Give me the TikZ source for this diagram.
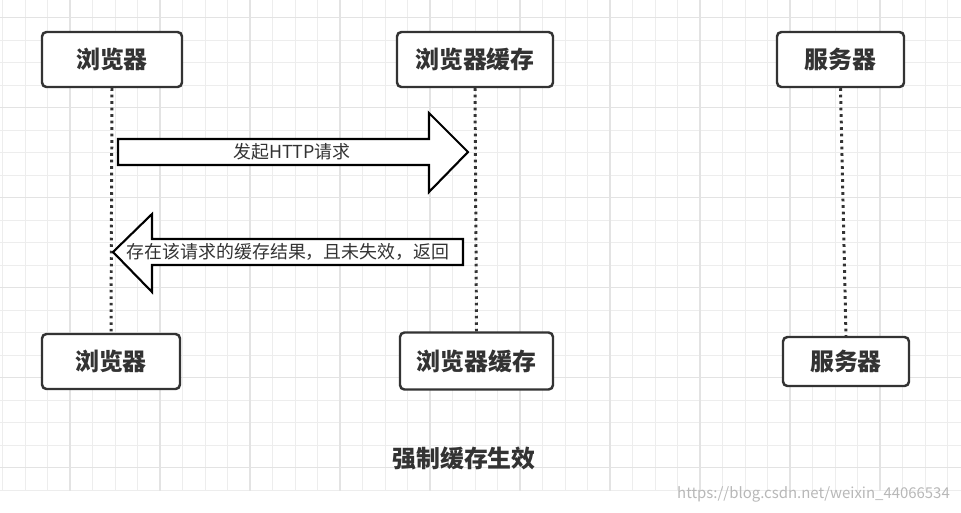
\documentclass[tikz,border=0pt]{standalone}
\usepackage{fontspec}
\setmainfont{Noto Sans CJK SC}
\usetikzlibrary{positioning}
\definecolor{tinta}{HTML}{333333}
\tikzset{
  caja/.style={draw=tinta,line width=1.4pt,rounded corners=2.5pt,fill=white,text=tinta,inner sep=0pt,font=\fontsize{13.6}{16}\selectfont\bfseries},
  vida/.style={tinta,line width=1.7pt,dash pattern=on 1.5pt off 2.2pt},
  flecha/.style={draw=black,line width=1.2pt,fill=white,line join=miter},
  rotulo/.style={text=tinta,inner sep=0pt,font=\fontsize{10.2}{12}\selectfont},
  rejilla/.style={black!7,line width=0.5pt},
  rejillaf/.style={black!11,line width=0.6pt}
}

\begin{document}
\begin{tikzpicture}[x=0.02cm,y=-0.02cm]
\useasboundingbox[fill=white] (0,0) rectangle (961,512);
\foreach \i in {0,...,42}{
  \draw[rejilla] ({2.5+22.5*\i},0) -- ({2.5+22.5*\i},491);}
\foreach \i in {0,...,21}{
  \draw[rejilla] (0,{17.5+22.5*\i}) -- (961,{17.5+22.5*\i});}
\foreach \i in {0,...,9}{
  \draw[rejillaf] ({70+90*\i},0) -- ({70+90*\i},491);}
\foreach \i in {0,...,5}{
  \draw[rejillaf] (0,{17.5+90*\i}) -- (961,{17.5+90*\i});}
\node[caja,minimum width=2.8cm,minimum height=1.1cm] (nav1) at (112,59.5) {浏览器};
\node[caja,minimum width=3.12cm,minimum height=1.1cm] (cache1) at (475,59.5) {浏览器缓存};
\node[caja,minimum width=2.54cm,minimum height=1.1cm] (serv1) at (840.5,59.5) {服务器};
\node[caja,minimum width=2.76cm,minimum height=1.1cm] (nav2) at (111,361.5) {浏览器};
\node[caja,minimum width=3.06cm,minimum height=1.14cm] (cache2) at (476.5,361) {浏览器缓存};
\node[caja,minimum width=2.52cm,minimum height=0.98cm] (serv2) at (846,361.5) {服务器};
\draw[vida] (nav1.south) -- (nav2.north);
\draw[vida] (cache1.south) -- (cache2.north);
\draw[vida] (serv1.south) -- (serv2.north);
\draw[flecha] (118,139) -- (429,139) -- (429,113) -- (468,152) -- (429,192) -- (429,165) -- (118,165) -- cycle;
\node[rotulo] (pet) at (292,152) {发起HTTP请求};
\draw[flecha] (463,239) -- (152,239) -- (152,214) -- (113,252) -- (152,292) -- (152,265) -- (463,265) -- cycle;
\node[rotulo] (resp) at (288,252) {存在该请求的缓存结果，且未失效，返回};
\node[text=tinta,font=\fontsize{13.6}{16}\selectfont\bfseries] (titulo) at (464,458) {强制缓存生效};
\node[anchor=east,text=black!28,font=\fontsize{8.5}{10}\selectfont] (marca) at (956,494) {https://blog.csdn.net/weixin\_44066534};
\end{tikzpicture}
\end{document}
